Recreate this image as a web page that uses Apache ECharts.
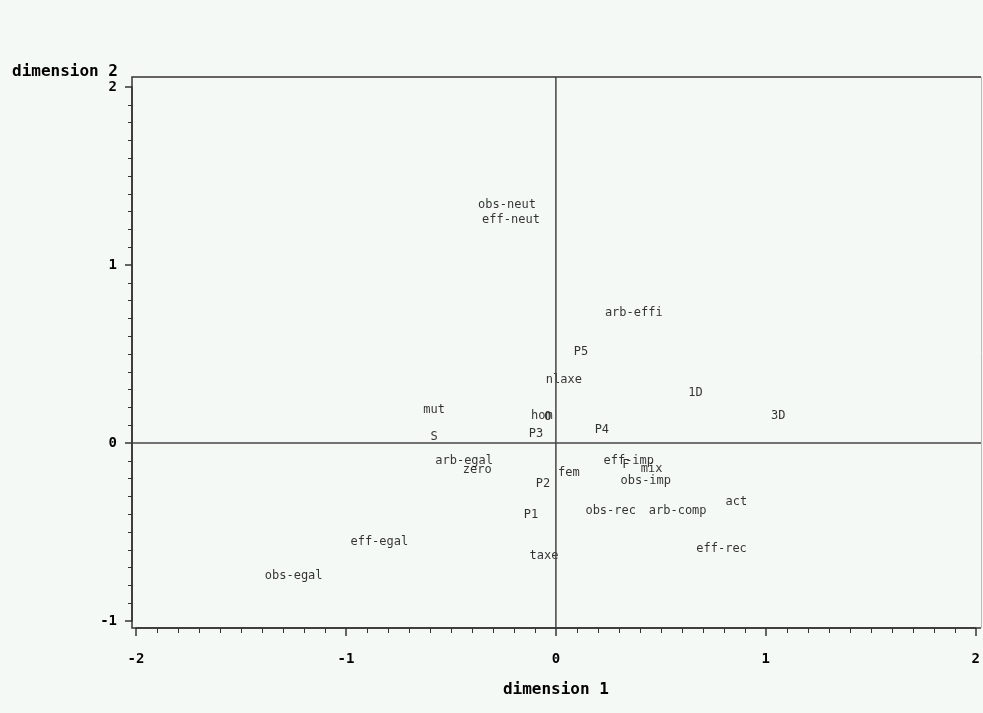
<!DOCTYPE html>
<html lang="en">
<head>
    <meta charset="UTF-8">
    <title>dimension 1 x dimension 2</title>
    <script src="https://cdn.jsdelivr.net/npm/echarts@6/dist/echarts.min.js"></script>
    <style>
        html, body { margin: 0; padding: 0; background: #f5f9f6; }
        #main { width: 983px; height: 713px; }
    </style>
</head>
<body>
<div id="main"></div>
<script>
// point labels and their coordinates (dimension 1, dimension 2)
var labels = ['obs-neut', 'eff-neut', 'arb-effi', 'P5', 'nlaxe', '1D', '3D', 'mut', 'hom', 'O',
    'P3', 'P4', 'S', 'arb-egal', 'zero', 'fem', 'P2', 'eff-imp', 'F', 'mix',
    'obs-imp', 'act', 'obs-rec', 'arb-comp', 'P1', 'eff-rec', 'taxe', 'eff-egal', 'obs-egal'];
var dim1 = [-0.233, -0.214, 0.371, 0.119, 0.038, 0.665, 1.059, -0.580, -0.067, -0.038,
    -0.095, 0.219, -0.580, -0.437, -0.375, 0.062, -0.062, 0.347, 0.333, 0.456,
    0.428, 0.860, 0.261, 0.580, -0.119, 0.789, -0.057, -0.841, -1.249];
var dim2 = [1.337, 1.253, 0.730, 0.511, 0.354, 0.281, 0.152, 0.185, 0.152, 0.146,
    0.051, 0.073, 0.034, -0.101, -0.152, -0.169, -0.230, -0.101, -0.124, -0.146,
    -0.213, -0.331, -0.382, -0.382, -0.404, -0.596, -0.635, -0.556, -0.747];
var xTicks = [-2, -1, 0, 1, 2];
var yTicks = [-1, 0, 1, 2];

(function() {
    var myChart = echarts.init(document.getElementById('main'));

    var points = [];
    for (var i = 0; i < labels.length; i ++) {
        points.push({ name: labels[i], value: [dim1[i], dim2[i]] });
    }

    // outer frame of the plot (slightly larger than the tick range)
    var frame = { left: 132, top: 77, right: 981, bottom: 628 };
    var tickFont = { fontFamily: 'DejaVu Sans Mono', fontWeight: 'bold', fontSize: 14, color: '#000' };
    var lineColor = '#333';

    var option = {
        backgroundColor: '#f5f9f6',
        animation: false,
        grid: { left: 136, right: 5, top: 87, bottom: 92 },
        xAxis: {
            type: 'value',
            min: xTicks[0],
            max: xTicks[xTicks.length - 1],
            interval: 1,
            offset: 7,
            name: 'dimension 1',
            nameLocation: 'middle',
            nameGap: 62,
            nameTextStyle: { fontFamily: 'DejaVu Sans Mono', fontWeight: 'bold', fontSize: 16, color: '#000', verticalAlign: 'middle' },
            axisLine: { show: true, onZero: false, lineStyle: { color: lineColor, width: 1.5 } },
            axisTick: { show: true, length: 8, lineStyle: { color: lineColor, width: 1.5 } },
            minorTick: { show: true, splitNumber: 10, length: 5, lineStyle: { color: lineColor, width: 1 } },
            axisLabel: Object.assign({ margin: 24 }, tickFont),
            splitLine: { show: false }
        },
        yAxis: {
            type: 'value',
            min: yTicks[0],
            max: yTicks[yTicks.length - 1],
            interval: 1,
            offset: 4,
            name: 'dimension 2',
            nameLocation: 'end',
            nameGap: 12,
            nameTextStyle: { fontFamily: 'DejaVu Sans Mono', fontWeight: 'bold', fontSize: 16, color: '#000',
                align: 'right', verticalAlign: 'middle', padding: [0, 14, 0, 0] },
            axisLine: { show: true, onZero: false, lineStyle: { color: lineColor, width: 1.5 } },
            axisTick: { show: true, length: 7, lineStyle: { color: lineColor, width: 1.5 } },
            minorTick: { show: true, splitNumber: 10, length: 4, lineStyle: { color: lineColor, width: 1 } },
            axisLabel: Object.assign({ margin: 15 }, tickFont),
            splitLine: { show: false }
        },
        series: [{
            type: 'scatter',
            symbolSize: 0,
            data: points,
            label: {
                show: true,
                position: 'inside',
                formatter: '{b}',
                align: 'center',
                verticalAlign: 'middle',
                fontFamily: 'DejaVu Sans Mono',
                fontSize: 12,
                color: '#000'
            },
            labelLayout: { hideOverlap: false }
        }]
    };

    myChart.setOption(option);

    // frame and zero reference lines, placed with the chart's own scales
    var origin = myChart.convertToPixel({ gridIndex: 0 }, [0, 0]);
    myChart.setOption({
        graphic: [{
            type: 'polyline',
            silent: true,
            z: 5,
            shape: { points: [[frame.right, frame.top], [frame.left, frame.top], [frame.left, frame.bottom], [frame.right, frame.bottom]] },
            style: { stroke: lineColor, lineWidth: 1.5, fill: null }
        }, {
            type: 'line',
            silent: true,
            z: 5,
            shape: { x1: frame.right + 0.5, y1: frame.top, x2: frame.right + 0.5, y2: frame.bottom },
            style: { stroke: '#bbb', lineWidth: 1 }
        }, {
            type: 'line',
            silent: true,
            z: 5,
            shape: { x1: origin[0], y1: frame.top, x2: origin[0], y2: frame.bottom },
            style: { stroke: '#444', lineWidth: 1.5 }
        }, {
            type: 'line',
            silent: true,
            z: 5,
            shape: { x1: frame.left, y1: origin[1], x2: frame.right, y2: origin[1] },
            style: { stroke: '#444', lineWidth: 1.5 }
        }]
    });
})();
</script>
</body>
</html>
